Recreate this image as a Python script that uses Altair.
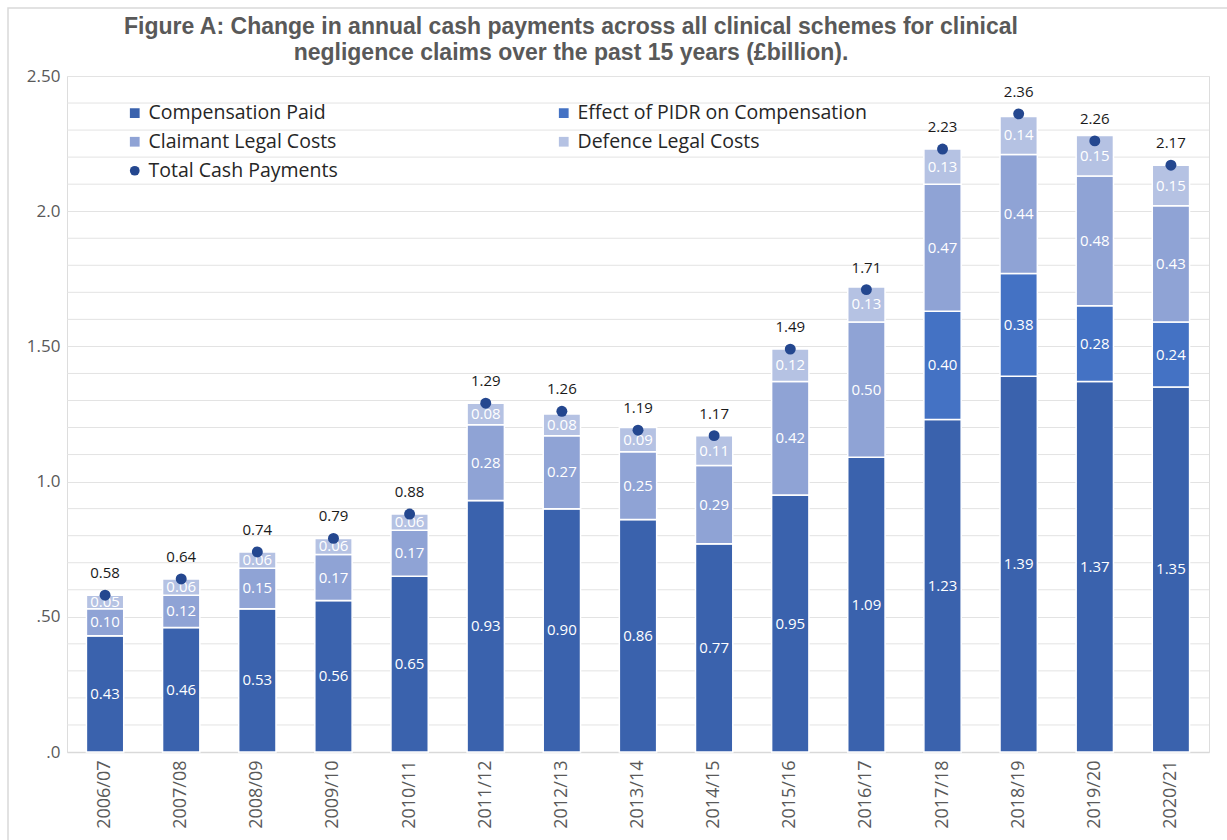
import altair as alt
import pandas as pd

years = ["2006/07", "2007/08", "2008/09", "2009/10", "2010/11", "2011/12", "2012/13",
         "2013/14", "2014/15", "2015/16", "2016/17", "2017/18", "2018/19", "2019/20", "2020/21"]
compensation = [0.43, 0.46, 0.53, 0.56, 0.65, 0.93, 0.90, 0.86, 0.77, 0.95, 1.09, 1.23, 1.39, 1.37, 1.35]
pidr = [0, 0, 0, 0, 0, 0, 0, 0, 0, 0, 0, 0.40, 0.38, 0.28, 0.24]
claimant = [0.10, 0.12, 0.15, 0.17, 0.17, 0.28, 0.27, 0.25, 0.29, 0.42, 0.50, 0.47, 0.44, 0.48, 0.43]
defence = [0.05, 0.06, 0.06, 0.06, 0.06, 0.08, 0.08, 0.09, 0.11, 0.12, 0.13, 0.13, 0.14, 0.15, 0.15]
total = [0.58, 0.64, 0.74, 0.79, 0.88, 1.29, 1.26, 1.19, 1.17, 1.49, 1.71, 2.23, 2.36, 2.26, 2.17]

y_tick_values = [0, 0.5, 1.0, 1.5, 2.0, 2.5]
y_tick_labels = [".0", ".50", "1.0", "1.50", "2.0", "2.50"]
minor_grid = [0.1, 0.2, 0.3, 0.4, 0.6, 0.7, 0.8, 0.9, 1.1, 1.2, 1.3, 1.4,
              1.6, 1.7, 1.8, 1.9, 2.1, 2.2, 2.3, 2.4]

series_names = ["Compensation Paid", "Effect of PIDR on Compensation",
                "Claimant Legal Costs", "Defence Legal Costs", "Total Cash Payments"]
series_colors = ["#3A62AD", "#4472C4", "#8FA3D5", "#B5C2E3", "#24478F"]
series_shapes = ["square", "square", "square", "square", "circle"]

rows = []
for i, y in enumerate(years):
    for k, vals in enumerate([compensation, pidr, claimant, defence]):
        rows.append({"year": y, "series": series_names[k], "order": k, "value": vals[i]})
bars_df = pd.DataFrame(rows)
tot_df = pd.DataFrame({"year": years, "total": total, "series": ["Total Cash Payments"] * len(years)})
grid_df = pd.DataFrame({"g": minor_grid})

W, H = 1142, 676
PL, PT = 67, 76

label_expr = " : ".join(
    f"round(datum.value*10)=={int(round(v * 10))} ? '{t}'" for v, t in zip(y_tick_values, y_tick_labels)
) + " : ''"

x_enc = alt.X("year:N", sort=years, title=None,
              scale=alt.Scale(paddingInner=0.51, paddingOuter=0.255),
              axis=alt.Axis(labelAngle=270, labelFontSize=18, labelColor="#595959",
                            labelFont="Open Sans", labelPadding=8, ticks=False,
                            domainColor="#D9D9D9", domainWidth=1.5))

color_scale = alt.Scale(domain=series_names, range=series_colors)
y_scale = alt.Scale(domain=[0, 2.5], nice=False)

grid_rules = alt.Chart(grid_df).mark_rule(color="#E3E3E3", strokeWidth=1).encode(
    y=alt.Y("g:Q", scale=y_scale),
    x=alt.value(0), x2=alt.value(W),
)

base = alt.Chart(bars_df).transform_stack(
    stack="value", groupby=["year"], as_=["y0", "y1"], sort=[alt.SortField("order")]
).transform_calculate(mid="(datum.y0 + datum.y1) / 2")

bars = base.mark_bar(stroke="white", strokeWidth=1.5).encode(
    x=x_enc,
    y=alt.Y("y0:Q", title=None, scale=y_scale,
            axis=alt.Axis(values=y_tick_values, labelExpr=label_expr,
                          labelOverlap=False, labelFontSize=17, labelColor="#595959",
                          labelFont="Open Sans", labelPadding=7, ticks=False, domain=False,
                          gridColor="#E3E3E3", gridWidth=1)),
    y2="y1:Q",
    color=alt.Color("series:N", scale=color_scale, title=None,
                    legend=alt.Legend(orient="none", legendX=58, legendY=27, columns=2,
                                      direction="horizontal",
                                      columnPadding=116, rowPadding=8, labelFontSize=19.5,
                                      labelFont="Open Sans", labelColor="#262626",
                                      symbolSize=95, symbolStrokeWidth=0, labelLimit=400,
                                      gridAlign="all")),
    order=alt.Order("order:Q"),
)

seg_labels = base.transform_filter("datum.value > 0").mark_text(
    color="white", fontSize=15, font="Open Sans", baseline="middle"
).encode(
    x=alt.X("year:N", sort=years),
    y=alt.Y("mid:Q"),
    text=alt.Text("value:Q", format=".2f"),
)

points = alt.Chart(tot_df).mark_point(filled=True, size=120, opacity=1).encode(
    x=alt.X("year:N", sort=years),
    y=alt.Y("total:Q"),
    color=alt.Color("series:N", scale=color_scale, title=None),
    shape=alt.Shape("series:N", scale=alt.Scale(domain=series_names, range=series_shapes), title=None),
)

tot_labels = alt.Chart(tot_df).mark_text(
    color="#1A1A1A", fontSize=15, font="Open Sans", dy=-22
).encode(
    x=alt.X("year:N", sort=years),
    y=alt.Y("total:Q"),
    text=alt.Text("total:Q", format=".2f"),
)

frame = alt.Chart(pd.DataFrame({"f": [0]})).mark_rect(
    fill=None, stroke="#D9D9D9", strokeWidth=1.5
).encode(
    x=alt.value(8 - PL), x2=alt.value(1227 - PL + 20),
    y=alt.value(8 - PT), y2=alt.value(840 - PT + 20),
)

chart = alt.layer(frame, grid_rules, bars, seg_labels, points, tot_labels).properties(
    width=W, height=H,
    title=alt.TitleParams(
        ["Figure A: Change in annual cash payments across all clinical schemes for clinical",
         "negligence claims over the past 15 years (£billion)."],
        font="Liberation Sans", fontSize=23, fontWeight="bold", color="#595959",
        anchor="middle", frame="group", dx=-67, offset=-58, lineHeight=26),
    autosize=alt.AutoSizeParams(type="none"),
    padding={"left": PL, "top": PT, "right": 1227 - PL - W, "bottom": 840 - PT - H},
).configure_view(stroke=None).configure(background="white")

chart.save("out.html", embed_options={"renderer": "svg", "actions": False})
